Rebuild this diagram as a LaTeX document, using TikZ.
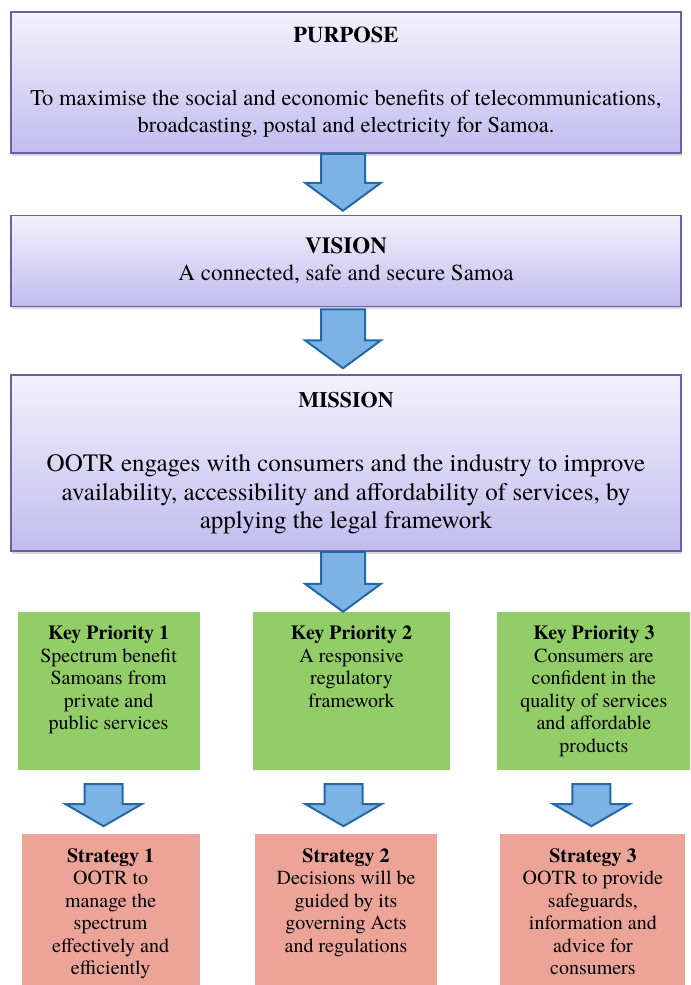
\documentclass[tikz,border=0pt]{standalone}
\usepackage{fontspec}
\setmainfont{texgyretermes}[Extension=.otf, UprightFont=*-regular, BoldFont=*-bold, ItalicFont=*-italic, BoldItalicFont=*-bolditalic]
\usetikzlibrary{positioning, calc, shadows}

\definecolor{lavTop}{RGB}{243,241,252}
\definecolor{lavBottom}{RGB}{194,188,238}
\definecolor{lavLine}{RGB}{104,98,165}
\definecolor{prioGreen}{RGB}{146,205,104}
\definecolor{stratRed}{RGB}{236,163,152}
\definecolor{flowFill}{RGB}{124,178,228}
\definecolor{flowLine}{RGB}{36,104,166}

\begin{document}
\begin{tikzpicture}[
  mainbox/.style={rectangle, draw=lavLine, line width=1.5bp, top color=lavTop, bottom color=lavBottom,
    minimum width=670bp, align=center, inner sep=0pt,
    drop shadow={shadow xshift=1bp, shadow yshift=-2.5bp, opacity=.3}},
  prio/.style={rectangle, fill=prioGreen, inner xsep=4bp, inner ysep=14bp,
    font=\fontsize{20bp}{22.5bp}\selectfont,
    execute at begin node={\begin{minipage}[c][130bp][t]{160bp}\centering},
    execute at end node={\end{minipage}}},
  strat/.style={prio, fill=stratRed},
  flow/.style n args={3}{draw=flowLine, fill=flowFill, line width=2bp, line join=miter,
    to path={
      ($(\tikztostart)+(-#1,0)$) -- ($(\tikztostart |- \tikztotarget)+(-#1,#3)$)
      -- ($(\tikztostart |- \tikztotarget)+(-#2,#3)$) -- (\tikztostart |- \tikztotarget)
      -- ($(\tikztostart |- \tikztotarget)+(#2,#3)$) -- ($(\tikztostart |- \tikztotarget)+(#1,#3)$)
      -- ($(\tikztostart)+(#1,0)$) -- cycle}}
  ]

\useasboundingbox (0,0) rectangle (691bp,-985bp);
\clip (0,0) rectangle (691bp,-985bp);

\node[mainbox, minimum height=141bp, font=\fontsize{22.5bp}{27bp}\selectfont] (purpose) at (346bp,-82.5bp) {
  \textbf{PURPOSE}\\[36bp]
  To maximise the social and economic benefits of telecommunications,\\
  broadcasting, postal and electricity for Samoa.
};

\node[mainbox, minimum height=91bp, below=61bp of purpose, font=\fontsize{23bp}{27bp}\selectfont] (vision) {
  \textbf{VISION}\\
  A connected, safe and secure Samoa
};

\node[mainbox, minimum height=176bp, below=67bp of vision, font=\fontsize{25bp}{28.5bp}\selectfont] (mission) {
  \textbf{\fontsize{22bp}{28.5bp}\selectfont MISSION}\\[36bp]
  OOTR engages with consumers and the industry to improve\\
  availability, accessibility and affordability of services, by\\
  applying the legal framework
};

\node[prio, minimum width=197bp, below=60bp of mission, xshift=5.5bp] (kp2) {
  \textbf{Key Priority 2}\\ A responsive\\ regulatory\\ framework};
\node[prio, minimum width=182bp, left=53bp of kp2] (kp1) {
  \textbf{Key Priority 1}\\ Spectrum benefit\\ Samoans from\\ private and\\ public services};
\node[prio, minimum width=193bp, right=47bp of kp2] (kp3) {
  \textbf{Key Priority 3}\\ Consumers are\\ confident in the\\ quality of services\\ and affordable\\ products};

\node[strat, minimum width=178bp, below=64bp of kp1, xshift=2bp] (st1) {
  \textbf{Strategy 1}\\ OOTR to\\ manage the\\ spectrum\\ effectively and\\ efficiently};
\node[strat, minimum width=182bp, below=64bp of kp2, xshift=-5.5bp] (st2) {
  \textbf{Strategy 2}\\ Decisions will be\\ guided by its\\ governing Acts\\ and regulations};
\node[strat, minimum width=185bp, below=64bp of kp3, xshift=-1bp] (st3) {
  \textbf{Strategy 3}\\ OOTR to provide\\ safeguards,\\ information and\\ advice for\\ consumers};

\draw[flow={22bp}{38bp}{28bp}] ([xshift=-3bp]purpose.south) to ([yshift=4bp]vision.north);
\draw[flow={22bp}{38bp}{28bp}] ([xshift=-3bp,yshift=-2bp]vision.south) to ([yshift=6bp]mission.north);
\draw[flow={22bp}{38bp}{28bp}] ([xshift=-3bp]mission.south) to (kp2.north);

\draw[flow={19bp}{38bp}{22bp}] ([xshift=-5bp,yshift=-14bp]kp1.south) to ([yshift=8bp]st1.north);
\draw[flow={19bp}{38bp}{22bp}] ([xshift=-8bp,yshift=-14bp]kp2.south) to ([yshift=8bp]st2.north);
\draw[flow={19bp}{38bp}{22bp}] ([xshift=-2.5bp,yshift=-14bp]kp3.south) to ([yshift=8bp]st3.north);

\end{tikzpicture}
\end{document}
